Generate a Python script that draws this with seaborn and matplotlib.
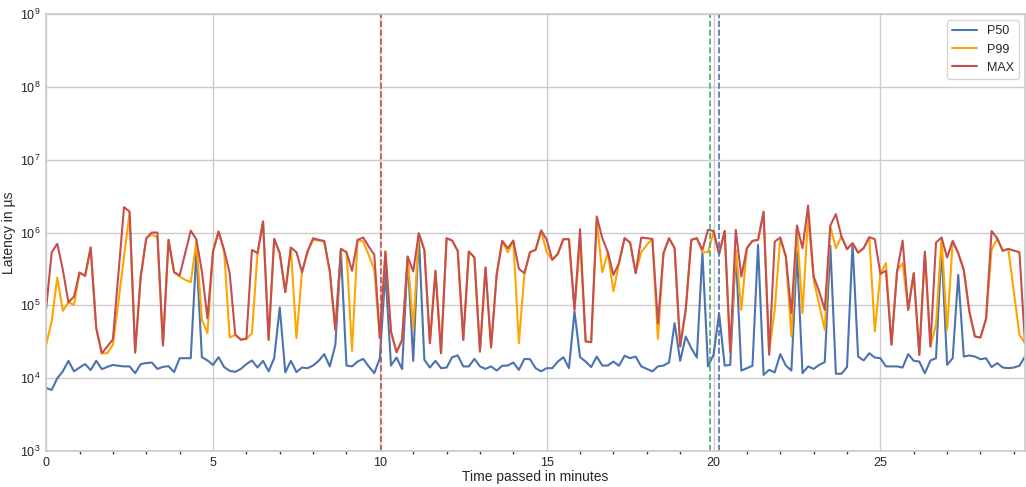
import numpy as np
import pandas as pd
import matplotlib
matplotlib.use("Agg")
import matplotlib.pyplot as plt
import seaborn as sns
from matplotlib.ticker import LogLocator, MultipleLocator

SAMPLE_SECONDS = 10

p50 = [7300, 6900, 10000, 12400, 17300, 12400, 14000, 15600, 12900, 17300,
       13300, 14300, 15200, 14800, 14500, 14500, 11700, 15600, 16100, 16400,
       13400, 14300, 14600, 12100, 18800, 18800, 18800, 548000, 19400, 17500,
       15200, 19400, 14200, 12600, 12200, 13400, 15600, 17500, 14000, 17300,
       12400, 18800, 93500, 12000, 17300, 12100, 14000, 13700, 14900, 17300,
       21400, 14500, 28700, 548000, 14900, 14500, 16900, 18400, 14500, 11700,
       18800, 292000, 14900, 19200, 13300, 444000, 17300, 929000, 17900, 14000,
       17300, 13700, 14000, 19400, 20500, 14500, 14500, 18400, 14500, 13400,
       14500, 12700, 14800, 14900, 16400, 13000, 18400, 18200, 13700, 12400,
       13700, 13700, 16900, 19400, 13700, 82200, 19400, 16900, 14200, 19800,
       14900, 14900, 16900, 14800, 20300, 18800, 19800, 14500, 13400, 12400,
       14500, 14900, 16400, 56900, 17300, 37300, 25800, 19200, 537000, 14500,
       20900, 78000, 14900, 15200, 548000, 12700, 13700, 14800, 678000, 11100,
       13000, 12000, 21400, 14900, 12700, 548000, 11700, 14500, 13400, 15200,
       16600, 663000, 11500, 11500, 14200, 692000, 19800, 17500, 22000, 19200,
       18800, 14500, 14500, 14500, 14000, 21400, 17300, 16900, 11700, 17500,
       18800, 610000, 15200, 18800, 262000, 19800, 20500, 19800, 18200, 18800,
       14200, 16100, 14000, 13700, 14000, 14800, 19800]

p99 = [28700, 61000, 241000, 84000, 110000, 102000, 282000, 254000, 623000, 48600,
       22000, 22000, 28700, 113000, 468000, 1840000, 22500, 249000, 836000, 948000,
       854000, 28100, 793000, 285000, 249000, 224000, 208000, 752000, 63200, 41500,
       548000, 1030000, 548000, 36200, 39400, 34300, 34700, 41500, 520000, 1420000,
       33600, 818000, 520000, 152000, 610000, 35400, 285000, 548000, 793000, 776000,
       752000, 292000, 46100, 597000, 537000, 23700, 793000, 752000, 494000, 307000,
       35400, 548000, 43700, 22700, 33600, 468000, 47600, 948000, 578000, 30300,
       298000, 22000, 836000, 776000, 560000, 33600, 548000, 454000, 23200, 331000,
       26400, 262000, 768000, 537000, 776000, 30300, 277000, 537000, 578000, 1060000,
       537000, 422000, 510000, 810000, 810000, 86800, 752000, 31900, 31200, 1420000,
       285000, 537000, 155000, 380000, 836000, 729000, 277000, 537000, 678000, 818000,
       34700, 520000, 836000, 610000, 27200, 86800, 793000, 836000, 537000, 537000,
       1030000, 504000, 1050000, 22700, 578000, 86800, 610000, 768000, 793000, 1840000,
       23200, 86800, 836000, 468000, 37300, 1150000, 78000, 1750000, 224000, 102000,
       46100, 1210000, 610000, 881000, 591000, 714000, 530000, 610000, 863000, 43700,
       271000, 380000, 28700, 298000, 380000, 86800, 277000, 20900, 537000, 27200,
       54000, 836000, 46100, 752000, 520000, 307000, 82200, 37300, 36200, 65300,
       578000, 836000, 560000, 597000, 155000, 39400, 30300]

p_max = [91500, 537000, 700000, 307000, 110000, 132000, 282000, 254000, 623000, 48600,
         22000, 27200, 34300, 277000, 2230000, 1940000, 22500, 249000, 836000, 1000000,
         1000000, 28100, 793000, 285000, 257000, 520000, 1060000, 810000, 292000, 66500,
         548000, 1030000, 578000, 277000, 39400, 33600, 34700, 578000, 520000, 1420000,
         33600, 818000, 520000, 152000, 623000, 537000, 285000, 548000, 836000, 793000,
         768000, 292000, 46100, 597000, 537000, 298000, 793000, 854000, 643000, 494000,
         35400, 548000, 43700, 22700, 33600, 468000, 292000, 979000, 578000, 30300,
         298000, 22000, 836000, 776000, 560000, 33600, 548000, 454000, 23200, 331000,
         26400, 262000, 768000, 610000, 776000, 317000, 277000, 537000, 578000, 1070000,
         800000, 422000, 510000, 810000, 810000, 86800, 1110000, 31900, 31200, 1660000,
         836000, 537000, 262000, 380000, 836000, 729000, 277000, 854000, 836000, 818000,
         56900, 520000, 836000, 610000, 27200, 86800, 793000, 836000, 578000, 1090000,
         1050000, 504000, 1050000, 22700, 1090000, 249000, 610000, 768000, 793000, 1940000,
         20900, 752000, 854000, 468000, 78000, 1250000, 610000, 2350000, 249000, 155000,
         86800, 1250000, 1790000, 881000, 591000, 714000, 530000, 610000, 863000, 810000,
         271000, 298000, 28700, 292000, 776000, 86800, 277000, 20900, 548000, 27200,
         729000, 854000, 454000, 768000, 520000, 307000, 82200, 37300, 36200, 65300,
         1050000, 836000, 560000, 597000, 565000, 537000, 30300]

series_names = ["P50", "P99", "MAX"]
series_colors = ["#4c72b0", "orange", "#c44e52"]

# vertical event markers (minute, colour)
markers_min = [10.03, 19.9, 20.15]
markers_col = ["#c44e52", "#55a868", "#4c72b0"]

minutes = np.arange(len(p50)) * SAMPLE_SECONDS / 60.0

df = pd.DataFrame({"minutes": np.tile(minutes, 3),
                   "latency": p50 + p99 + p_max,
                   "series": np.repeat(series_names, len(p50))})

sns.set_theme(style="whitegrid")
plt.rcParams["font.family"] = ["Liberation Sans", "DejaVu Sans"]

fig, ax = plt.subplots(figsize=(10.26, 4.87), dpi=100)
sns.lineplot(data=df, x="minutes", y="latency", hue="series",
             palette=dict(zip(series_names, series_colors)), lw=1.5, ax=ax)

for m, c in zip(markers_min, markers_col):
    ax.axvline(m, color=c, linestyle="--", lw=1.2)

ax.set_yscale("log")
ax.set_ylim(1e3, 1e9)
ax.set_xlim(0, minutes[-1])
ax.yaxis.set_major_locator(LogLocator(base=10, numticks=10))
ax.xaxis.set_major_locator(MultipleLocator(5))
ax.xaxis.set_minor_locator(MultipleLocator(1))
ax.tick_params(axis="both", which="major", labelsize=9, length=0, pad=4)
ax.tick_params(axis="x", which="minor", bottom=True, length=2, width=1, color="0.25")
ax.tick_params(axis="y", which="minor", left=False)
ax.grid(False, which="minor")

ax.set_xlabel("Time passed in minutes", fontsize=10, labelpad=1)
ax.set_ylabel("Latency in µs", fontsize=10, labelpad=3)
ax.legend(loc="upper right", fontsize=9)

fig.subplots_adjust(left=0.045, right=0.999, bottom=0.074, top=0.971)
fig.savefig("out.png", dpi=100)
